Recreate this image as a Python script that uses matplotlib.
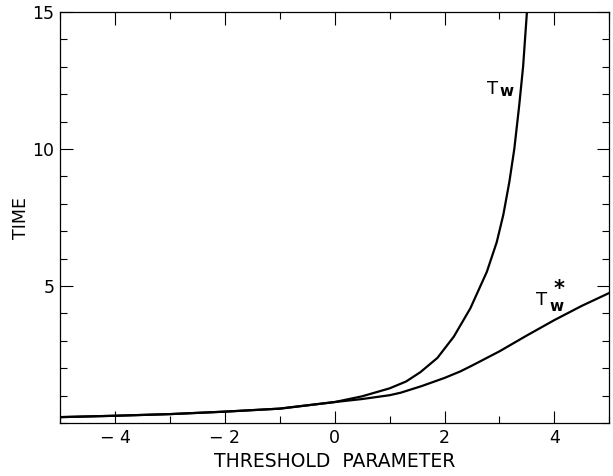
import numpy as np
import matplotlib.pyplot as plt
from matplotlib.ticker import MultipleLocator, FixedLocator

# values
x_tw = [-5, -4, -3, -2, -1, 0, 0.5, 1, 1.3, 1.56, 1.87, 2.17, 2.47, 2.77, 2.95, 3.07, 3.18, 3.27, 3.36, 3.43, 3.5]
tw = [0.22, 0.27, 0.33, 0.42, 0.53, 0.77, 0.98, 1.27, 1.52, 1.86, 2.38, 3.16, 4.19, 5.52, 6.6, 7.6, 8.8, 10.0, 11.6, 13.0, 15.0]

x_tws = [-5, -4, -3, -2, -1, 0, 0.5, 1, 1.2, 1.58, 2, 2.29, 2.5, 3, 3.5, 4, 4.5, 5]
tw_star = [0.22, 0.27, 0.33, 0.42, 0.53, 0.77, 0.88, 1.02, 1.11, 1.35, 1.65, 1.89, 2.1, 2.62, 3.2, 3.76, 4.28, 4.75]

x_major = [-4, -2, 0, 2, 4]
x_labels = ["\u2212 4", "\u2212 2", "0", "2", "4"]
y_major = [5, 10, 15]

plt.rcParams['font.family'] = ['DejaVu Sans']

fig = plt.figure(figsize=(6.13, 4.76), dpi=100)
ax = fig.add_axes([0.098, 0.111, 0.896, 0.864])

ax.plot(x_tw, tw, color="black", lw=1.6)
ax.plot(x_tws, tw_star, color="black", lw=1.6)

ax.set_xlim(-5, 5)
ax.set_ylim(0, 15)

ax.xaxis.set_major_locator(FixedLocator(x_major))
ax.set_xticklabels(x_labels)
ax.xaxis.set_minor_locator(MultipleLocator(1))
ax.yaxis.set_major_locator(FixedLocator(y_major))
ax.yaxis.set_minor_locator(MultipleLocator(1))

ax.tick_params(which="both", direction="in", top=True, right=True,
               width=0.8, labelsize=12.5, pad=4)
ax.tick_params(which="major", length=9)
ax.tick_params(which="minor", length=5)
for s in ax.spines.values():
    s.set_linewidth(0.9)

ax.set_xlabel("THRESHOLD  PARAMETER", fontsize=13.5, labelpad=4)
ax.set_ylabel("TIME", fontsize=12.5, labelpad=2)

# curve labels
ax.text(2.87, 12.2, "T", fontsize=13, ha="center", va="center")
ax.text(3.12, 12.1, "w", fontsize=11, ha="center", va="center", fontweight="bold")
ax.text(3.76, 4.5, "T", fontsize=13, ha="center", va="center")
ax.text(4.04, 4.26, "w", fontsize=11, ha="center", va="center", fontweight="bold")
ax.text(4.09, 4.88, "*", fontsize=15, ha="center", va="center", fontweight="bold")

fig.savefig("out.png", dpi=100)
